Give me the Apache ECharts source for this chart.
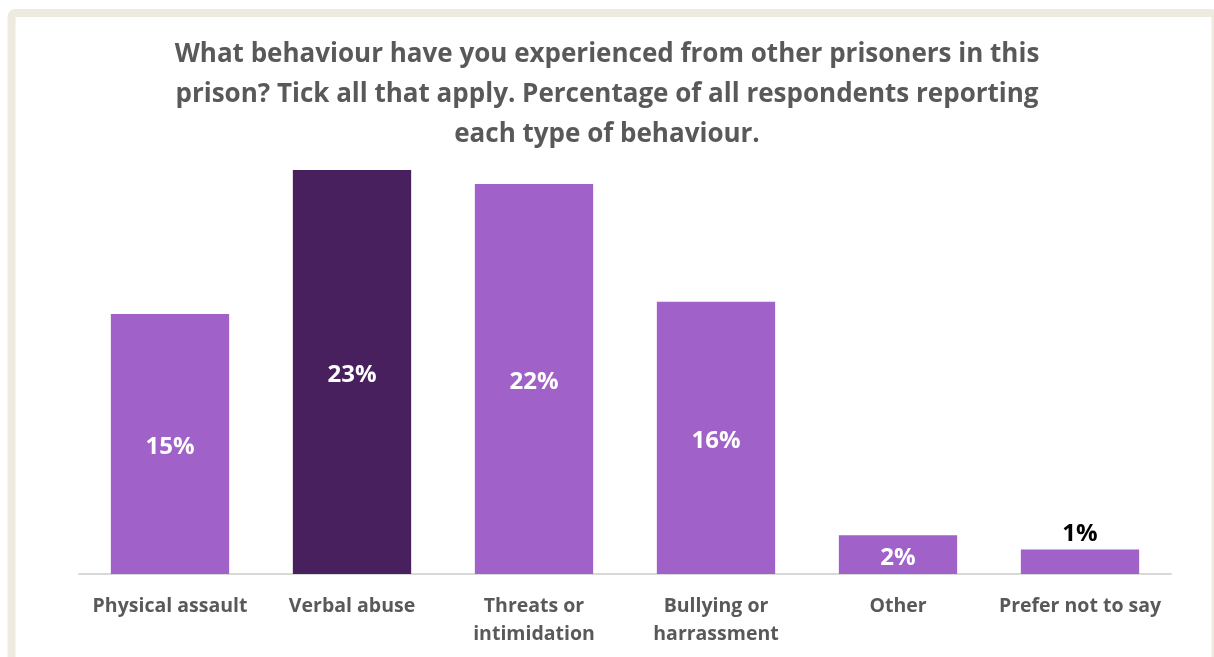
<!DOCTYPE html>
<html>
<head>
<meta charset="utf-8">
<script src="https://cdn.jsdelivr.net/npm/echarts@6/dist/echarts.min.js"></script>
<style>
html,body{margin:0;padding:0;background:#fff;}
#chart{width:1214px;height:657px;}
</style>
</head>
<body>
<div id="chart"></div>
<script>
const categories = ['Physical assault', 'Verbal abuse', 'Threats or\nintimidation', 'Bullying or\nharrassment', 'Other', 'Prefer not to say'];
const values = [14.8, 23.0, 22.2, 15.5, 2.2, 1.4];
const highlightIndex = 1;
const titleText = 'What behaviour have you experienced from other prisoners in this\nprison? Tick all that apply. Percentage of all respondents reporting\neach type of behaviour.';

const FONT = '"Open Sans", "Liberation Sans", sans-serif';
const chart = echarts.init(document.getElementById('chart'), null, {renderer: 'canvas'});

const data = values.map((v, i) => {
  const item = {
    value: v,
    itemStyle: {color: i === highlightIndex ? '#48205E' : '#A061C8'}
  };
  if (v < 2) {
    item.label = {position: 'top', color: '#000000', distance: 3, offset: [0, 0]};
  }
  return item;
});

chart.setOption({
  animation: false,
  backgroundColor: '#ffffff',
  graphic: [{
    type: 'rect',
    shape: {x: 11.5, y: 13, width: 1204, height: 700, r: 4},
    style: {fill: 'none', stroke: '#EEEAE0', lineWidth: 8},
    z: 0
  }],
  title: {
    text: titleText,
    left: 'center',
    top: 30,
    textStyle: {
      fontFamily: FONT,
      fontWeight: 'bold',
      fontSize: 26,
      lineHeight: 40,
      color: '#595959'
    }
  },
  grid: {left: 79, right: 43, top: 170, bottom: 83, containLabel: false},
  xAxis: {
    type: 'category',
    data: categories,
    axisLine: {lineStyle: {color: '#D9D9D9', width: 2}},
    axisTick: {show: false},
    axisLabel: {
      fontFamily: FONT,
      fontWeight: 'bold',
      fontSize: 19.5,
      lineHeight: 28,
      color: '#595959',
      margin: 18,
      interval: 0,
      verticalAlign: 'top'
    }
  },
  yAxis: {
    type: 'value',
    min: 0,
    max: 23,
    show: false,
    splitLine: {show: false}
  },
  series: [{
    type: 'bar',
    data: data,
    barCategoryGap: '35%',
    label: {
      show: true,
      position: 'inside',
      offset: [0, 3],
      formatter: p => Math.round(p.value) + '%',
      fontFamily: FONT,
      fontWeight: 'bold',
      fontSize: 24,
      color: '#ffffff'
    }
  }]
});
</script>
</body>
</html>
